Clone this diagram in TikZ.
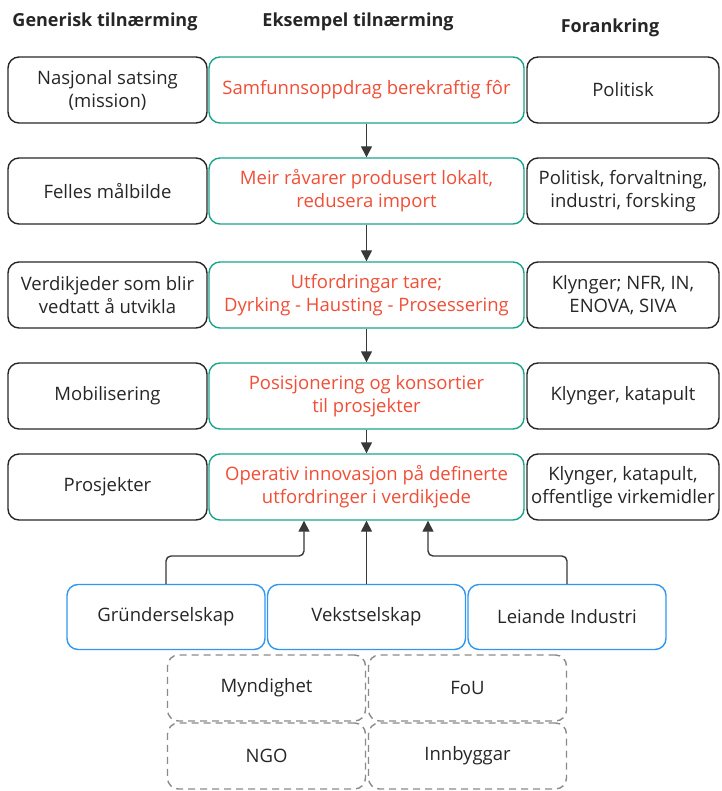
\documentclass[tikz,border=0pt]{standalone}
\usepackage{fontspec}
\setmainfont{Open Sans}
\usetikzlibrary{positioning,arrows.meta}
\definecolor{tekst}{HTML}{262626}
\definecolor{groenn}{HTML}{1AA38A}
\definecolor{raud}{HTML}{F04E37}
\definecolor{blaa}{HTML}{2F97EF}
\definecolor{graa}{HTML}{8A8A8A}
\definecolor{pil}{HTML}{383838}

\begin{document}
\begin{tikzpicture}[x=1pt,y=-1pt,
  every node/.style={font=\fontsize{18.5}{23}\selectfont, align=center, text=tekst},
  boks/.style={rounded corners=11pt, minimum height=66pt, line width=1.4pt, inner sep=1pt},
  genboks/.style={boks, draw=tekst, minimum width=199pt},
  eksboks/.style={boks, draw=groenn, minimum width=315pt, text=raud},
  forboks/.style={boks, draw=tekst, minimum width=192pt},
  aktorboks/.style={boks, draw=blaa, minimum width=198pt, minimum height=65pt},
  stipla/.style={boks, draw=graa, dashed, dash pattern=on 7pt off 5pt, minimum width=198pt},
  overskrift/.style={font=\bfseries\fontsize{18}{22}\selectfont},
  pilen/.style={draw=pil, line width=1.4pt, -{Triangle[length=11pt,width=11pt]}}]
\useasboundingbox (0,0) rectangle (721,791);

% overskrifter
\node[overskrift] (hGen) at (105,22) {Generisk tilnærming};
\node[overskrift] (hEks) at (358,22) {Eksempel tilnærming};
\node[overskrift] (hFor) at (610,28) {Forankring};

% generisk kolonne
\node[genboks] (g1) at (107.5,90) {Nasjonal satsing\\(mission)};
\node[genboks] (g2) at (107.5,191) {Felles målbilde};
\node[genboks] (g3) at (107.5,295) {Verdikjeder som blir\\vedtatt å utvikla};
\node[genboks] (g4) at (107.5,396) {Mobilisering};
\node[genboks] (g5) at (107.5,487) {Prosjekter};

% eksempel kolonne
\node[eksboks] (e1) at (366.5,90) {Samfunnsoppdrag berekraftig fôr};
\node[eksboks] (e2) at (366.5,191) {Meir råvarer produsert lokalt,\\redusera import};
\node[eksboks] (e3) at (366.5,295) {Utfordringar tare;\\Dyrking - Hausting - Prosessering};
\node[eksboks] (e4) at (366.5,396) {Posisjonering og konsortier\\til prosjekter};
\node[eksboks] (e5) at (366.5,487) {Operativ innovasjon på definerte\\utfordringer i verdikjede};

% forankring kolonne
\node[forboks] (f1) at (623,90) {Politisk};
\node[forboks] (f2) at (623,191) {Politisk, forvaltning,\\industri, forsking};
\node[forboks] (f3) at (623,295) {Klynger; NFR, IN,\\ENOVA, SIVA};
\node[forboks] (f4) at (623,396) {Klynger, katapult};
\node[forboks] (f5) at (623,487) {Klynger, katapult,\\offentlige virkemidler};

% aktørar
\node[aktorboks] (a1) at (166,617) {Gründerselskap};
\node[aktorboks] (a2) at (366.5,617) {Vekstselskap};
\node[aktorboks] (a3) at (567,617) {Leiande Industri};

% stipla aktørar
\node[stipla] (s1) at (266.5,688) {Myndighet};
\node[stipla] (s2) at (467.5,688) {FoU};
\node[stipla] (s3) at (266.5,756) {NGO};
\node[stipla] (s4) at (467.5,756) {Innbyggar};

% knekkpunkt
\coordinate (k1) at (304,556);
\coordinate (k3) at (428,556);

% piler nedover
\draw[pilen] (e1) -- (e2);
\draw[pilen] (e2) -- (e3);
\draw[pilen] (e3) -- (e4);
\draw[pilen] (e4) -- (e5);

% piler oppover
\draw[pilen, rounded corners=5pt] (a1.north) |- (k1) -- (k1 |- e5.south);
\draw[pilen] (a2) -- (e5);
\draw[pilen, rounded corners=5pt] (a3.north) |- (k3) -- (k3 |- e5.south);
\end{tikzpicture}
\end{document}
